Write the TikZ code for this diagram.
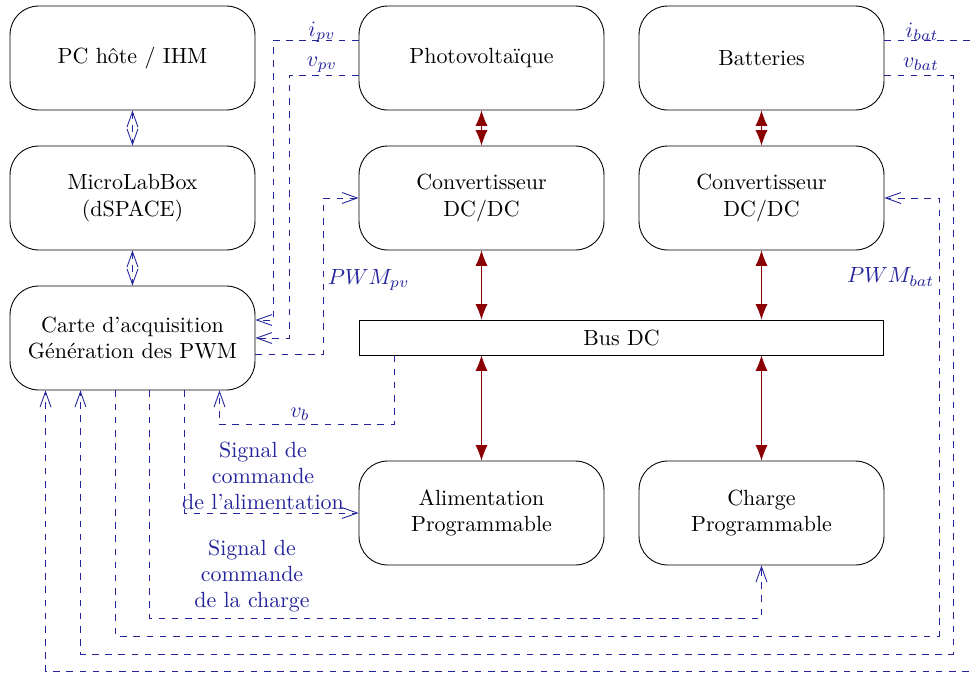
\documentclass[tikz,border=0pt]{standalone}
\usepackage{tikz}
\usepackage{xcolor}
\usetikzlibrary{arrows.meta,calc}
\definecolor{Sig}{HTML}{24249C}
\definecolor{Power}{HTML}{8B0000}
\tikzset{
  block/.style={draw,rounded corners=13pt,minimum width=3.92cm,minimum height=1.664cm,align=center},
  busbar/.style={draw,minimum width=8.4cm,minimum height=0.56cm},
  sig/.style={Sig,dashed},
  sigarrow/.style={sig,-{Straight Barb[length=7pt,width=5pt]}},
  sigboth/.style={sig,{Straight Barb[length=7pt,width=5pt]}-{Straight Barb[length=7pt,width=5pt]}},
  power/.style={Power,{Latex[length=7pt,width=5.5pt]}-{Latex[length=7pt,width=5.5pt]}},
  lbl/.style={text=Sig,align=center}
}

\begin{document}
\begin{tikzpicture}[x=0.016cm,y=-0.016cm]
  \useasboundingbox (0,0) rectangle (974,673);
  % blocks
  \node[block] (pc) at (132.5,58) {PC hôte / IHM};
  \node[block] (mlb) at (132.5,198) {MicroLabBox\\(dSPACE)};
  \node[block] (carte) at (132.5,338) {Carte d'acquisition\\Génération des PWM};
  \node[block] (pv) at (481.5,58) {Photovoltaïque};
  \node[block] (convpv) at (481.5,198) {Convertisseur\\DC/DC};
  \node[block] (bat) at (761.5,58) {Batteries};
  \node[block] (convbat) at (761.5,198) {Convertisseur\\DC/DC};
  \node[busbar] (bus) at (621.5,337.5) {Bus DC};
  \node[block] (alim) at (481.5,513) {Alimentation\\Programmable};
  \node[block] (charge) at (761.5,513) {Charge\\Programmable};

  % power flow
  \draw[power] (pv) -- (convpv);
  \draw[power] (bat) -- (convbat);
  \draw[power] (convpv.south) -- (convpv.south |- bus.north);
  \draw[power] (convbat.south) -- (convbat.south |- bus.north);
  \draw[power] (alim.north |- bus.south) -- (alim.north);
  \draw[power] (charge.north |- bus.south) -- (charge.north);

  % control chain
  \draw[sigboth] (pc) -- (mlb);
  \draw[sigboth] (mlb) -- (carte);

  % measures and commands
  \coordinate (ibatc) at (980,671);
  \coordinate (vbatc) at (953,654);
  \coordinate (pwmbatc) at (939,636);
  \draw[sigarrow] ($(pv.west)+(0,-18)$) -| ($(carte.east)+(18,-18)$) -- ($(carte.east)+(0,-18)$);
  \draw[sigarrow] ($(pv.west)+(0,17)$) -| ($(carte.east)+(34,0)$) -- (carte.east);
  \draw[sigarrow] ($(carte.east)+(0,16)$) -| ($(convpv.west)+(-35,0)$) -- (convpv.west);
  \draw[sigarrow] ($(bat.east)+(0,-18)$) -| (ibatc) -| ($(carte.south)+(-87,0)$);
  \draw[sigarrow] ($(bat.east)+(0,17)$) -| (vbatc) -| ($(carte.south)+(-52,0)$);
  \draw[sigarrow] ($(carte.south)+(-17,0)$) |- (pwmbatc) |- (convbat.east);
  \draw[sigarrow] ($(carte.south)+(17,0)$) |- ($(charge.south)+(0,53)$) -- (charge.south);
  \draw[sigarrow] ($(carte.south)+(52,0)$) |- (alim.west);
  \draw[sigarrow] ($(bus.south)+(-227.5,0)$) |- ($(carte.south)+(87,34)$) -- ($(carte.south)+(87,0)$);

  % labels
  \node[lbl] (lipv) at (322,32) {$i_{pv}$};
  \node[lbl] (lvpv) at (322,65) {$v_{pv}$};
  \node[lbl,anchor=west] (lpwmpv) at (320,280) {$PWM_{pv}$};
  \node[lbl] (libat) at (922,32) {$i_{bat}$};
  \node[lbl] (lvbat) at (921,64) {$v_{bat}$};
  \node[lbl,anchor=east] (lpwmbat) at (942,277) {$PWM_{bat}$};
  \node[lbl] (lvb) at (300,414) {$v_b$};
  \node[lbl] (lalim) at (263,476) {Signal de\\commande\\de l'alimentation};
  \node[lbl] (lcharge) at (252,576) {Signal de\\commande\\de la charge};
\end{tikzpicture}
\end{document}
